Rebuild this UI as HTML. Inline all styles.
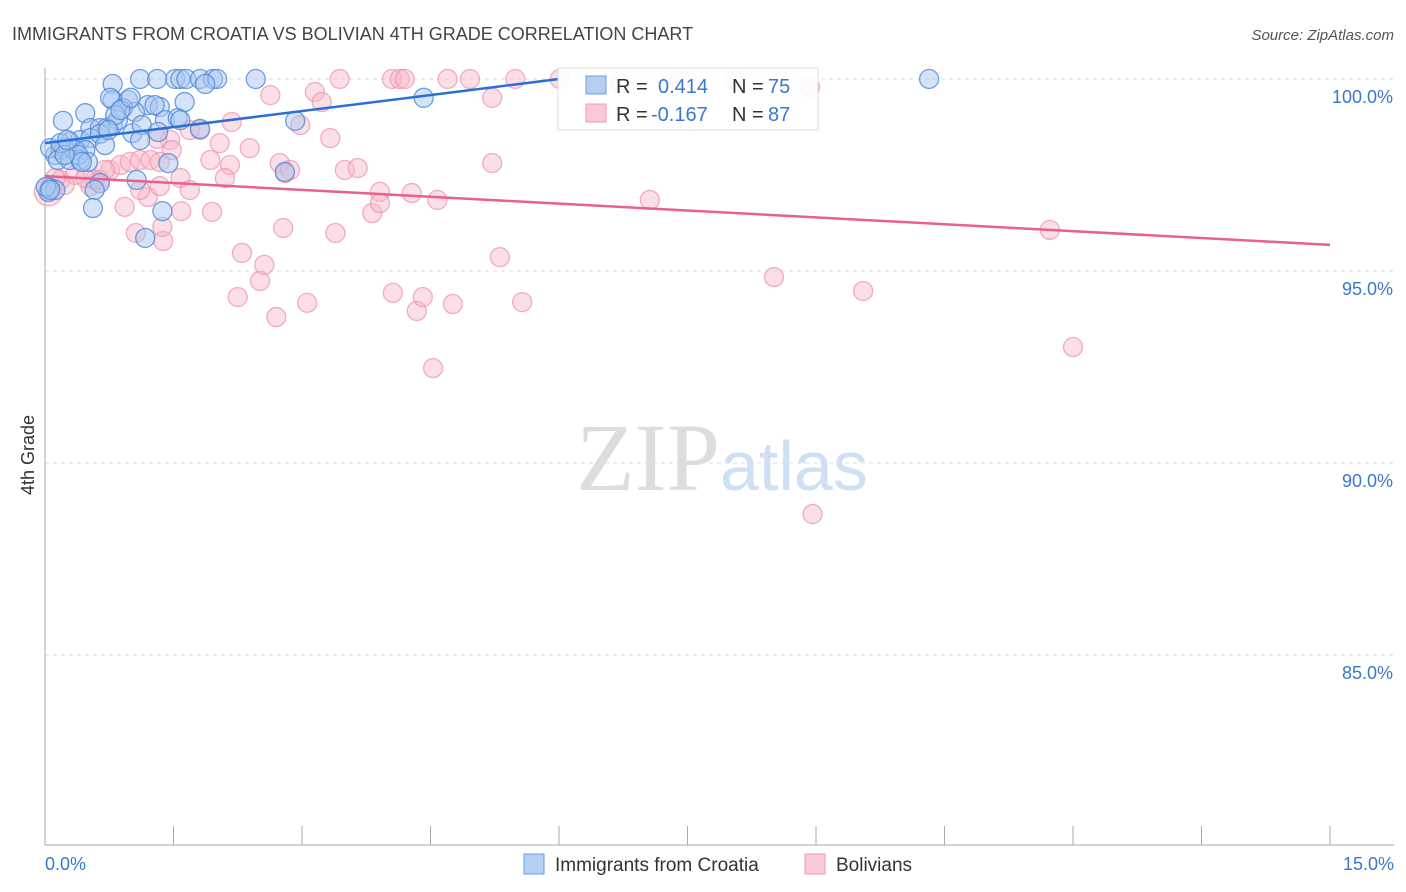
<!DOCTYPE html>
<html><head><meta charset="utf-8"><style>
body{margin:0;background:#fff;font-family:"Liberation Sans",sans-serif;}
svg{display:block}
</style></head><body>
<svg id="chart" width="1406" height="892">
<text x="12" y="40" font-size="18" fill="#444">IMMIGRANTS FROM CROATIA VS BOLIVIAN 4TH GRADE CORRELATION CHART</text>
<text x="1394" y="40" font-size="15" fill="#555" font-style="italic" text-anchor="end">Source: ZipAtlas.com</text>
<text x="34" y="455" font-size="18" fill="#333" transform="rotate(-90 34 455)" text-anchor="middle">4th Grade</text>
<text x="720" y="490" font-size="96" fill="#ddd" font-family="Liberation Serif,serif" text-anchor="end">ZIP</text>
<text x="720" y="490" font-size="70" fill="#cfe0f5">atlas</text>
<g id="grid"></g><g id="axes"></g><g id="pink"></g><g id="blue"></g><g id="lines"></g>
<g>
<rect x="558" y="68" width="260" height="62" fill="#fff" fill-opacity="0.9" stroke="#ddd"/>
<rect x="586" y="76" width="20" height="18" fill="#b5cff2" stroke="#6c9ee0"/>
<rect x="586" y="104" width="20" height="18" fill="#fac8d6" stroke="#ef9ab2"/>
<text x="616" y="93" font-size="20" fill="#333">R = </text><text x="658" y="93" font-size="20" fill="#3a76d0">0.414</text>
<text x="732" y="93" font-size="20" fill="#333">N = </text><text x="768" y="93" font-size="20" fill="#3a76d0">75</text>
<text x="616" y="121" font-size="20" fill="#333">R = </text><text x="651" y="121" font-size="20" fill="#3a76d0">-0.167</text>
<text x="732" y="121" font-size="20" fill="#333">N = </text><text x="768" y="121" font-size="20" fill="#3a76d0">87</text>
</g>
<g>
<rect x="524" y="854" width="20" height="20" fill="#b5cff2" stroke="#6c9ee0"/>
<text x="555" y="871" font-size="19" fill="#333">Immigrants from Croatia</text>
<rect x="805" y="854" width="20" height="20" fill="#fac8d6" stroke="#ef9ab2"/>
<text x="836" y="871" font-size="19" fill="#333">Bolivians</text>
</g>
</svg>
<script>
const yTicks=[100,95,90,85];
const yTickLabels=["100.0%","95.0%","90.0%","85.0%"];
const xTickLabels=["0.0%","15.0%"];
const blueX=[1.11,1.31,1.52,1.58,1.65,1.81,1.96,2.01,2.46,10.32,0.79,1.87,0.79,0.76,0.97,1.20,1.34,1.63,0.47,0.21,0.91,1.05,1.40,1.55,0.79,0.85,0.53,0.64,0.72,1.02,1.13,1.32,1.81,2.92,4.42,0.29,0.41,0.53,0.12,0.18,0.23,0.35,0.47,0.06,0.15,0.29,0.41,0.39,0.50,1.44,2.80,0.64,1.07,0.06,0.04,0.58,0.56,1.37,1.17,0.12,0.64,0.82,1.11,0.70,0.88,0.18,0.43,0.01,1.00,1.58,0.74,1.28,0.23,0.26,0.06];
const blueY=[100,100,100,100,100,100,100,100,100,100,99.87,99.87,99.45,99.51,99.45,99.32,99.27,99.40,99.11,98.91,99.24,99.14,98.93,98.98,98.80,98.93,98.72,98.72,98.72,98.59,98.80,98.62,98.70,98.91,99.51,98.36,98.41,98.46,98.02,98.15,98.20,98.15,98.15,98.20,97.89,97.89,97.89,98.02,97.84,97.81,97.58,97.29,97.37,97.16,97.06,97.11,96.64,96.56,95.86,97.11,98.57,99.06,98.41,98.28,99.19,98.33,97.84,97.19,99.51,98.93,98.67,99.32,98.02,98.41,97.11];
const pinkX=[0.04,0.18,0.35,0.53,0.64,0.76,0.88,0.99,1.11,1.23,1.34,1.46,1.58,1.69,1.81,1.93,2.04,2.16,2.10,2.18,2.39,2.63,2.74,2.80,2.78,2.86,2.98,3.15,3.23,3.33,3.44,3.50,3.65,3.39,3.82,3.91,3.91,4.05,4.14,4.20,4.28,4.58,4.70,4.96,5.22,5.22,5.31,5.49,6.01,6.71,7.06,7.41,8.05,8.93,11.73,12.00,8.51,9.55,8.96,4.53,4.76,4.34,4.41,4.06,5.57,3.06,2.70,2.51,2.56,2.30,2.25,1.59,1.38,1.37,1.06,0.93,1.20,1.48,1.31,1.95,1.69,0.70,0.58,1.11,1.34,0.47,0.23,0.12];
const pinkY=[97.06,97.37,97.50,97.21,97.37,97.63,97.76,97.84,97.89,97.89,97.84,98.41,97.42,97.11,98.67,97.89,98.33,97.76,97.42,98.88,98.20,99.58,97.81,97.55,96.12,97.63,98.80,99.66,99.40,98.46,100,97.63,97.68,95.99,96.51,97.06,96.77,100,100,100,97.03,96.85,100,100,99.51,97.81,95.36,100,100,99.90,96.85,100,100,99.79,96.07,93.02,94.84,94.48,88.67,92.47,94.14,93.96,94.32,94.43,94.19,94.17,93.80,94.74,95.16,95.47,94.32,96.56,95.78,96.15,95.99,96.67,96.93,98.15,98.44,96.54,98.67,97.63,97.37,97.11,97.21,97.42,97.24,97.42];
const blueTrend=[[0,98.33],[6.0,100]];
const pinkTrend=[[0,97.47],[15,95.68]];
const NS="http://www.w3.org/2000/svg";
const X=v=>45+v*(1285/15);
const Y=v=>79+(100-v)*38.4;
function mk(tag,attrs,parent){const e=document.createElementNS(NS,tag);for(const k in attrs)e.setAttribute(k,attrs[k]);document.getElementById(parent).appendChild(e);return e;}
yTicks.forEach((t,i)=>{
 const l=mk('line',{x1:45,x2:1394,y1:Y(t),y2:Y(t),stroke:'#ddd','stroke-dasharray':'4,4'},'grid');
 
 
 const tx=mk('text',{x:1393,y:Y(t)+24,'font-size':18,fill:'#3a76d0','text-anchor':'end'},'grid');
 tx.textContent=yTickLabels[i];
 
 
});
const ax=mk('line',{x1:45,x2:45,y1:68,y2:845,stroke:'#aaa'},'axes');


const bx=mk('line',{x1:45,x2:1394,y1:845,y2:845,stroke:'#aaa'},'axes');


for(let i=0;i<=10;i++){
 const t=mk('line',{x1:X(i*1.5),x2:X(i*1.5),y1:826,y2:845,stroke:'#aaa'},'axes');
 
 
}
[[0,'start'],[15,'end']].forEach((p,i)=>{
 const tx=mk('text',{x:p[0]===0?45:1394,y:870,'font-size':18,fill:'#3a76d0','text-anchor':p[1]},'axes');
 tx.textContent=xTickLabels[i];
 
 
});
pinkX.forEach((x,i)=>{
 const c=mk('circle',{cx:X(x),cy:Y(pinkY[i]),r:i===0?14:9.5,fill:'#f7b5c8','fill-opacity':0.45,stroke:'#ec8fab','stroke-opacity':0.7,'stroke-width':1.3},'pink');
 
 
});
blueX.forEach((x,i)=>{
 const c=mk('circle',{cx:X(x),cy:Y(blueY[i]),r:9.5,fill:'#a9c8f0','fill-opacity':0.5,stroke:'#4d88d8','stroke-opacity':0.8,'stroke-width':1.3},'blue');
 
 
});
const bl=mk('line',{x1:X(blueTrend[0][0]),y1:Y(blueTrend[0][1]),x2:X(blueTrend[1][0]),y2:Y(blueTrend[1][1]),stroke:'#2a6fd6','stroke-width':2.5},'lines');


const pl=mk('line',{x1:X(pinkTrend[0][0]),y1:Y(pinkTrend[0][1]),x2:X(pinkTrend[1][0]),y2:Y(pinkTrend[1][1]),stroke:'#e8608c','stroke-width':2.5},'lines');


</script>
</body></html>
